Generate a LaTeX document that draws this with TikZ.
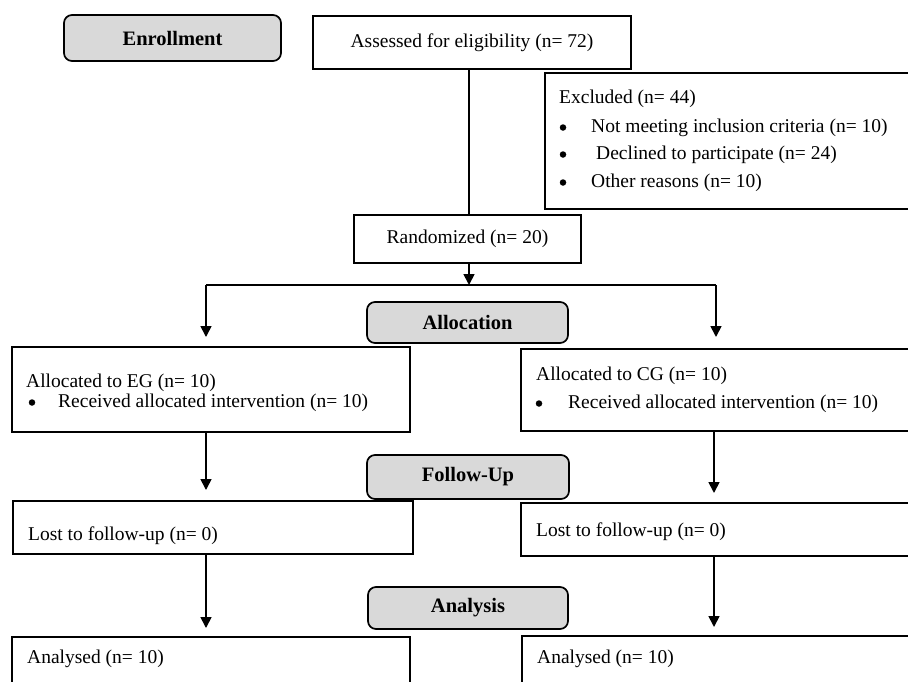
\documentclass[tikz,border=0pt]{standalone}
\usepackage{fontspec}
\setmainfont{Liberation Serif}
\usetikzlibrary{arrows.meta}
\definecolor{stagegray}{RGB}{217,217,217}
\begin{document}
\begin{tikzpicture}[x=1pt,y=-1pt,
  box/.style={draw, line width=1.7pt, inner sep=0pt, rectangle, font=\fontsize{19.5}{23}\selectfont},
  stage/.style={draw, line width=1.7pt, fill=stagegray, rounded corners=8pt, inner sep=0pt, font=\fontsize{20.5}{24}\selectfont\bfseries},
  txt/.style={anchor=base west, inner sep=0pt, font=\fontsize{19.5}{23}\selectfont},
  bul/.style={circle, fill=black, inner sep=0pt, minimum size=6.5pt},
  conn/.style={line width=1.7pt},
  arr/.style={conn, -{Triangle[length=11pt,width=11pt]}}]
\useasboundingbox (0,0) rectangle (908,681);
\clip (0,0) rectangle (908,681);
\fill[white] (0,0) rectangle (908,681);

% stage labels
\node[stage, minimum width=217pt, minimum height=46pt] (enroll) at (172.5,38) {Enrollment};
\node[stage, minimum width=201pt, minimum height=41pt] (alloc) at (467.5,322.5) {Allocation};
\node[stage, minimum width=202pt, minimum height=44pt] (follow) at (468,477) {Follow-Up};
\node[stage, minimum width=200pt, minimum height=42pt] (analysis) at (468,608) {Analysis};

% boxes
\node[box, minimum width=318pt, minimum height=53pt] (assess) at (472,42.5) {Assessed for eligibility (n= 72)};
\node[box, minimum width=385pt, minimum height=136pt] (excl) at (737.5,141) {};
\node[box, minimum width=227pt, minimum height=48pt] (rand) at (467.5,239) {Randomized (n= 20)};
\node[box, minimum width=398pt, minimum height=85pt] (eg) at (211,389.5) {};
\node[box, minimum width=409pt, minimum height=82pt] (cg) at (725.5,390) {};
\node[box, minimum width=400pt, minimum height=53pt] (lostL) at (213,527.5) {};
\node[box, minimum width=409pt, minimum height=53pt] (lostR) at (725.5,529.5) {};
\node[box, minimum width=398pt, minimum height=63pt] (anL) at (211,668.5) {};
\node[box, minimum width=408pt, minimum height=64pt] (anR) at (726,668) {};

% texts
\node[txt] (exT) at (559,103) {Excluded (n= 44)};
\node[bul] (exB1) at (563,127.5) {};
\node[txt] (ex1) at (591,132) {Not meeting inclusion criteria (n= 10)};
\node[bul] (exB2) at (563,154.5) {};
\node[txt] (ex2) at (596,159) {Declined to participate (n= 24)};
\node[bul] (exB3) at (563,182.5) {};
\node[txt] (ex3) at (591,187) {Other reasons (n= 10)};

\node[txt] (egT) at (26,387) {Allocated to EG (n= 10)};
\node[bul] (egB) at (32,402.5) {};
\node[txt] (eg1) at (58,407) {Received allocated intervention (n= 10)};

\node[txt] (cgT) at (536,380) {Allocated to CG (n= 10)};
\node[bul] (cgB) at (539,403.5) {};
\node[txt] (cg1) at (568,408) {Received allocated intervention (n= 10)};

\node[txt] (lostLT) at (28,540) {Lost to follow-up (n= 0)};
\node[txt] (lostRT) at (536,536) {Lost to follow-up (n= 0)};
\node[txt] (anLT) at (27,663) {Analysed (n= 10)};
\node[txt] (anRT) at (537,663) {Analysed (n= 10)};

% connectors
\coordinate (spine) at (469,0);
\coordinate (split) at (469,285);
\coordinate (lbr) at (206,285);
\coordinate (rbr) at (716,285);
\coordinate (egtip) at (206,337);
\coordinate (cgtip) at (716,337);
\coordinate (lcol) at (206,0);
\coordinate (rcol) at (714,0);
\coordinate (lostLtip) at (206,490);
\coordinate (lostRtip) at (714,493);
\coordinate (anLtip) at (206,628);
\coordinate (anRtip) at (714,627);

\draw[conn] (spine |- assess.south) -- (spine |- rand.north);
\draw[arr] (spine |- rand.south) -- (split);
\draw[conn] (lbr) -- (rbr);
\draw[arr] (lbr) -- (egtip);
\draw[arr] (rbr) -- (cgtip);
\draw[arr] (lcol |- eg.south) -- (lostLtip);
\draw[arr] (rcol |- cg.south) -- (lostRtip);
\draw[arr] (lcol |- lostL.south) -- (anLtip);
\draw[arr] (rcol |- lostR.south) -- (anRtip);
\end{tikzpicture}
\end{document}
